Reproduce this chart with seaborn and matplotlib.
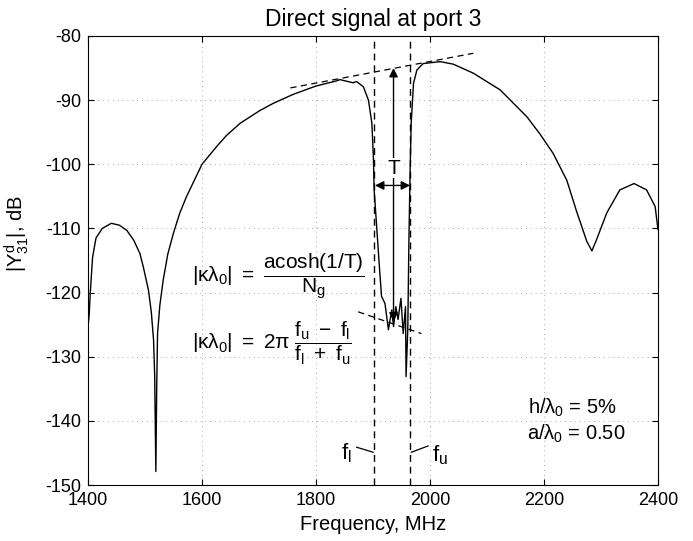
import numpy as np
import matplotlib
matplotlib.use('Agg')
import matplotlib.pyplot as plt
import seaborn as sns

# curve (MHz, dB)
freq_mhz = [1400, 1400.5, 1402, 1404, 1408, 1414, 1425, 1441, 1455, 1468,
            1480, 1491, 1497, 1506, 1511, 1515, 1517, 1519, 1520.5, 1522,
            1526, 1532, 1540, 1550, 1561, 1573, 1600, 1626, 1643, 1667,
            1702, 1725, 1760, 1800, 1836, 1842, 1865, 1871, 1883, 1892, 1898,
            1900.6, 1902, 1906, 1912, 1915, 1921, 1927, 1933, 1936, 1940,
            1944, 1949, 1953, 1957, 1958, 1961, 1963, 1965, 1967, 1971,
            1977, 1988, 2018, 2041, 2076, 2123, 2170, 2193, 2216, 2240,
            2257, 2275, 2284, 2292, 2310, 2333, 2358, 2380, 2395, 2400]
level_db = [-104.3, -124.8, -123.5, -120.0, -114.5, -111.5, -110.0, -109.2, -109.5, -110.3,
            -111.8, -113.9, -116.0, -119.6, -123.0, -127.4, -133.0, -147.9, -135.0, -126.4,
            -122.0, -118.0, -114.0, -110.7, -107.6, -105.0, -100.0, -97.2, -95.5, -93.6,
            -91.6, -90.5, -89.1, -87.8, -87.0, -86.8, -87.3, -87.1, -87.9, -90.0, -93.6,
            -98.8, -104.0, -109.2, -117.0, -120.6, -121.7, -125.8, -122.7, -125.3, -122.2,
            -124.2, -120.9, -126.4, -122.2, -133.1, -125.8, -111.8, -101.4, -93.6, -87.4,
            -85.3, -84.3, -84.0, -84.4, -85.8, -88.4, -92.6, -95.3, -98.3, -102.5,
            -107.3, -112.0, -113.5, -111.8, -107.6, -104.0, -103.0, -104.0, -106.6, -110.2]

# band edges and construction lines
f_lower = 1901
f_upper = 1965
upper_tangent_x = [1755, 2076]
upper_tangent_y = [-88.1, -82.7]
lower_tangent_x = [1874, 1985]
lower_tangent_y = [-123.0, -126.4]

x_ticks = [1400, 1600, 1800, 2000, 2200, 2400]
y_ticks = [-150, -140, -130, -120, -110, -100, -90, -80]

sns.set_theme(style='ticks')
plt.rcParams['font.family'] = ['Liberation Sans', 'DejaVu Sans']
plt.rcParams['mathtext.fontset'] = 'custom'
plt.rcParams['mathtext.rm'] = 'Liberation Sans'
plt.rcParams['mathtext.it'] = 'Liberation Sans'
plt.rcParams['mathtext.bf'] = 'Liberation Sans:bold'
plt.rcParams['axes.unicode_minus'] = False
plt.rcParams['text.color'] = 'black'
plt.rcParams['axes.labelcolor'] = 'black'

fig = plt.figure(figsize=(6.93, 5.41), dpi=100)
ax = fig.add_axes([0.127, 0.1035, 0.8225, 0.83])

sns.lineplot(x=freq_mhz, y=level_db, sort=False, estimator=None,
             color='black', lw=1.0, ax=ax)

# dashed construction lines
dash = (0, (5, 3.5))
ax.axvline(f_lower, color='black', lw=1.0, ls=dash)
ax.axvline(f_upper, color='black', lw=1.0, ls=dash)
ax.plot(upper_tangent_x, upper_tangent_y, color='black', lw=0.9, ls=dash)
ax.plot(lower_tangent_x, lower_tangent_y, color='black', lw=0.9, ls=dash)

# T arrows
ax.annotate('', xy=(1936, -85.0), xytext=(1936, -124.5),
            arrowprops=dict(arrowstyle='<|-|>', color='black', lw=1.0,
                            mutation_scale=13, shrinkA=0, shrinkB=0))
ax.annotate('', xy=(1903.5, -103.3), xytext=(1965, -103.3),
            arrowprops=dict(arrowstyle='<|-|>', color='black', lw=1.0,
                            mutation_scale=13, shrinkA=0, shrinkB=0))
ax.text(1936, -100.6, 'T', ha='center', va='center', fontsize=15, zorder=5,
        bbox=dict(fc='white', ec='none', pad=0.5))

# formulas
ax.text(1582, -117.6, r'$|\kappa\lambda_0|\ =\ \dfrac{acosh(1/T)}{N_g}$',
        ha='left', va='center', fontsize=15)
ax.text(1582, -128.0, r'$|\kappa\lambda_0|\ =\ 2\pi\ \dfrac{f_u\ -\ f_l}{f_l\ +\ f_u}$',
        ha='left', va='center', fontsize=15)

# band edge labels
ax.text(1854, -145.0, r'$f_l$', ha='center', va='center', fontsize=16)
ax.plot([1871, 1900.5], [-144.1, -144.9], color='black', lw=0.9)
ax.text(2018, -145.3, r'$f_u$', ha='center', va='center', fontsize=16)
ax.plot([1967, 1997], [-144.9, -143.9], color='black', lw=0.9)

ax.text(2172, -138.0, r'$h/\lambda_0$ = 5%', ha='left', va='center', fontsize=14.5)
ax.text(2170, -142.0, r'$a/\lambda_0$ = 0.50', ha='left', va='center', fontsize=14.5)

ax.set_xlim(1400, 2400)
ax.set_ylim(-150, -80)
ax.set_xticks(x_ticks)
ax.set_yticks(y_ticks)
ax.set_xticklabels([str(v) for v in x_ticks])
ax.set_yticklabels([str(v) for v in y_ticks])
ax.tick_params(direction='in', length=4, width=0.8, top=True, right=True,
               labelsize=13, pad=5, colors='black')
for s in ax.spines.values():
    s.set_visible(True)
    s.set_color('black')
    s.set_linewidth(0.8)
ax.grid(True, color='#aaaaaa', lw=0.7, ls=(0, (1, 4)))

ax.set_title('Direct signal at port 3', fontsize=16.5, pad=7, color='black')
ax.set_xlabel('Frequency, MHz', fontsize=14.5, labelpad=4)
ax.set_ylabel(r'$|Y^d_{31}|$, dB', fontsize=14.5)
ax.yaxis.set_label_coords(-0.1, 0.56)

fig.savefig('out.png', dpi=100, facecolor='white')
